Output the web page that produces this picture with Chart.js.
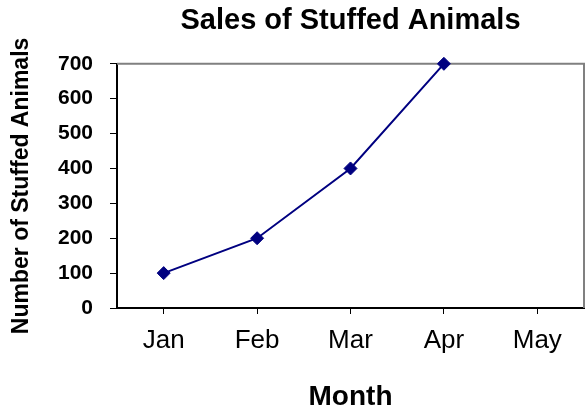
<!DOCTYPE html>
<html>
<head>
<meta charset="utf-8">
<script src="https://cdn.jsdelivr.net/npm/chart.js@4/dist/chart.umd.min.js"></script>
<style>
  body { margin: 0; background: #fff; }
</style>
</head>
<body>
<canvas id="salesChart" width="585" height="411"></canvas>
<script>
const months = ["Jan", "Feb", "Mar", "Apr", "May"];
const sales = [100, 200, 400, 700, null];
const yTicks = [0, 100, 200, 300, 400, 500, 600, 700];

const FONT = "'Liberation Sans', Arial, sans-serif";

// gray frame on the top and right of the plot area
const frame = {
    id: "frame",
    beforeDatasetsDraw(chart) {
        const { ctx, chartArea: a } = chart;
        ctx.save();
        ctx.strokeStyle = "#808080";
        ctx.lineWidth = 2;
        ctx.beginPath();
        ctx.moveTo(a.left, a.top);
        ctx.lineTo(a.right, a.top);
        ctx.lineTo(a.right, a.bottom);
        ctx.stroke();
        ctx.restore();
    }
};

new Chart(document.getElementById("salesChart"), {
    type: "line",
    data: {
        labels: months,
        datasets: [{
            data: sales,
            borderColor: "#000080",
            backgroundColor: "#000080",
            borderWidth: 2,
            pointStyle: "rectRot",
            pointRadius: 6.5,
            pointBorderWidth: 1,
            tension: 0,
            clip: false
        }]
    },
    options: {
        responsive: false,
        animation: false,
        layout: { autoPadding: false, padding: { left: 0, right: 1, top: 0, bottom: 0 } },
        plugins: {
            legend: { display: false },
            tooltip: { enabled: false },
            title: {
                display: true,
                text: "Sales of Stuffed Animals",
                color: "#000",
                fullSize: false,
                font: { family: FONT, size: 29, weight: "bold", lineHeight: 1.2 },
                padding: { top: 4, bottom: 25 }
            }
        },
        scales: {
            x: {
                offset: true,
                afterFit(scale) { scale.height = 103; },
                border: { color: "#000", width: 2 },
                grid: { drawOnChartArea: false, drawTicks: true, tickLength: 6, color: "#000", lineWidth: 1 },
                ticks: { color: "#000", padding: 11, maxRotation: 0, font: { family: FONT, size: 26 } },
                title: {
                    display: true,
                    text: "Month",
                    color: "#000",
                    font: { family: FONT, size: 28, weight: "bold", lineHeight: 1 },
                    padding: { top: 0, bottom: 0 }
                }
            },
            y: {
                min: 0,
                max: 700,
                afterFit(scale) { scale.width = 117; },
                afterBuildTicks(scale) { scale.ticks = yTicks.map(v => ({ value: v })); },
                border: { color: "#000", width: 2 },
                grid: { drawOnChartArea: false, drawTicks: true, tickLength: 7, color: "#000", lineWidth: 1 },
                ticks: { color: "#000", padding: 17, font: { family: FONT, size: 21, weight: "bold" } },
                title: {
                    display: true,
                    text: "Number of Stuffed Animals",
                    color: "#000",
                    font: { family: FONT, size: 23, weight: "bold", lineHeight: 1.2 },
                    padding: { top: 8, bottom: 0 }
                }
            }
        }
    },
    plugins: [frame]
});
</script>
</body>
</html>
